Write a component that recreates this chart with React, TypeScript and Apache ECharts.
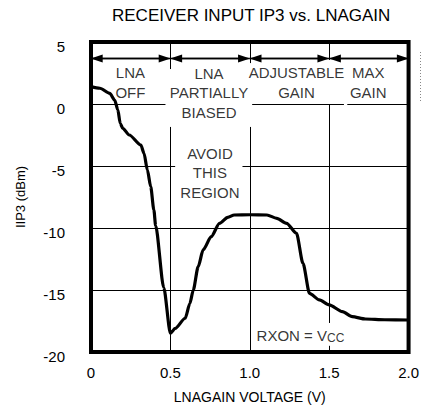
import React, { useEffect, useRef } from "react";
import * as echarts from "echarts";

const FONT = "'Liberation Sans', Arial, Helvetica, sans-serif";

const titleText = "RECEIVER INPUT IP3 vs. LNAGAIN";
const xAxisName = "LNAGAIN VOLTAGE (V)";
const yAxisName = "IIP3 (dBm)";
const xTickLabels = ["0", "0.5", "1.0", "1.5", "2.0"];

const voltage = [
  0, 0.056, 0.118, 0.149, 0.169, 0.184, 0.2, 0.241, 0.314, 0.334, 0.355, 0.376,
  0.396, 0.407, 0.458, 0.5, 0.53, 0.593, 0.623, 0.644, 0.675, 0.706, 0.757,
  0.809, 0.861, 0.902, 1.0, 1.108, 1.17, 1.232, 1.294, 1.335, 1.376, 1.438, 1.5,
  1.583, 1.645, 1.728, 1.85, 2.0,
];
const iip3 = [
  1.4, 1.27, 0.86, 0.32, -0.48, -1.56, -1.96, -2.5, -3.31, -3.98, -5.32, -6.67,
  -8.55, -9.8, -14.8, -18.49, -18.1, -17.28, -16.07, -15.0, -13.12, -11.77,
  -10.7, -9.62, -9.14, -8.95, -8.93, -8.95, -9.22, -9.62, -10.43, -12.85,
  -15.27, -15.8, -16.2, -16.75, -17.15, -17.34, -17.4, -17.42,
];

const regionLabels = [
  "LNA\nOFF",
  "LNA\nPARTIALLY\nBIASED",
  "ADJUSTABLE\nGAIN",
  "MAX\nGAIN",
  "AVOID\nTHIS\nREGION",
];
const regionX = [0.248, 0.743, 1.294, 1.746, 0.749];
const regionY = [1.72, 0.89, 1.72, 1.72, -5.56];

const rxonX = 1.319;
const rxonY = -18.63;

// grid segments (data coords) – the chart's broken grid lines
const gridSegments: number[][][] = [
  [[0.5, 5], [0.5, 2.82]],
  [[0.5, -1.85], [0.5, -20]],
  [[1.0, 5], [1.0, 3.3]],
  [[1.0, -1.85], [1.0, -20]],
  [[1.5, 5], [1.5, 3.55]],
  [[1.5, 0], [1.5, -17.66]],
  [[1.5, -19.5], [1.5, -20]],
  [[0, 0], [0.469, 0]],
  [[1.015, 0], [1.593, 0]],
  [[1.614, 0], [2, 0]],
  [[0, -5], [0.53, -5]],
  [[0.954, -5], [2, -5]],
  [[0, -10], [2, -10]],
  [[0, -15], [2, -15]],
];

const arrowSpans = [
  [0, 0.5],
  [0.5, 1.0],
  [1.0, 1.5],
  [1.5, 2.0],
];
const arrowY = 3.67;
const arrowInset = 0.036; // half an arrow-head, in volts

export default function App() {
  const ref = useRef<HTMLDivElement>(null);

  useEffect(() => {
    document.body.style.margin = "0";
    if (!ref.current) return;
    const chart = echarts.init(ref.current, undefined, { renderer: "svg" });

    const markData: any[] = [];
    gridSegments.forEach((seg) => {
      markData.push([
        { coord: seg[0], symbol: "none" },
        { coord: seg[1], symbol: "none" },
      ]);
    });
    arrowSpans.forEach((s) => {
      markData.push([
        {
          coord: [s[0] + arrowInset, arrowY],
          symbol: "triangle",
          symbolSize: [8, 12],
        },
        {
          coord: [s[1] - arrowInset, arrowY],
          symbol: "triangle",
          symbolSize: [8, 12],
          lineStyle: { width: 1.4 },
        },
      ]);
      markData.push([
        { coord: [s[0], arrowY], symbol: "none" },
        { coord: [s[1], arrowY], symbol: "none", lineStyle: { width: 1.4 } },
      ]);
    });

    const labelData: any[] = regionLabels.map((t, i) => ({
      name: t,
      value: [regionX[i], regionY[i]],
    }));
    labelData.push({
      name: "RXON",
      value: [rxonX, rxonY],
      label: {
        formatter: "{a|RXON = V}{s|CC}",
        rich: {
          a: { fontSize: 15, fontFamily: FONT, color: "#000", lineHeight: 18 },
          s: {
            fontSize: 12,
            fontFamily: FONT,
            color: "#000",
            lineHeight: 18,
            padding: [6, 0, 0, 0],
          },
        },
      },
    });

    chart.setOption({
      animation: false,
      title: {
        text: titleText,
        left: 112,
        top: 7,
        padding: 0,
        textStyle: {
          fontSize: 17,
          fontWeight: "normal",
          color: "#000",
          fontFamily: FONT,
        },
      },
      grid: {
        left: 91,
        right: 8,
        top: 42,
        bottom: 59,
        show: true,
        borderColor: "#000",
        borderWidth: 4,
        backgroundColor: "transparent",
      },
      xAxis: {
        type: "value",
        min: 0,
        max: 2,
        interval: 0.5,
        axisLine: { show: false },
        axisTick: { show: false },
        splitLine: { show: false },
        axisLabel: {
          color: "#000",
          fontSize: 15,
          fontFamily: FONT,
          margin: 13,
          formatter: (v: number) => xTickLabels[Math.round(v / 0.5)] ?? String(v),
        },
        name: xAxisName,
        nameLocation: "middle",
        nameGap: 38,
        nameTextStyle: { color: "#000", fontSize: 14, fontFamily: FONT },
      },
      yAxis: {
        type: "value",
        min: -20,
        max: 5,
        interval: 5,
        axisLine: { show: false },
        axisTick: { show: false },
        splitLine: { show: false },
        axisLabel: {
          color: "#000",
          fontSize: 15,
          fontFamily: FONT,
          margin: 26,
          formatter: (v: number) => "{t|" + v + "}",
          rich: {
            t: {
              fontSize: 15,
              fontFamily: FONT,
              color: "#000",
              padding: [8, 0, 0, 0],
            },
          },
        },
        name: yAxisName,
        nameLocation: "middle",
        nameGap: 64,
        nameRotate: 90,
        nameTextStyle: { color: "#000", fontSize: 13, fontFamily: FONT },
      },
      graphic: [
        {
          type: "line",
          shape: { x1: 420.5, y1: 52, x2: 420.5, y2: 103 },
          style: { stroke: "#888", lineWidth: 1, lineDash: [1, 2] },
          silent: true,
        },
      ],
      series: [
        {
          type: "scatter",
          symbolSize: 0,
          silent: true,
          z: 3,
          data: labelData,
          label: {
            show: true,
            position: "inside",
            formatter: "{b}",
            color: "#000",
            fontSize: 15,
            lineHeight: 19.5,
            fontFamily: FONT,
            align: "center",
          },
          markLine: {
            silent: true,
            symbol: ["none", "none"],
            label: { show: false },
            lineStyle: { color: "#000", width: 1, type: "solid" },
            emphasis: { disabled: true },
            data: markData,
          },
        },
        {
          type: "line",
          data: voltage.map((v, i) => [v, iip3[i]]),
          symbol: "none",
          showSymbol: false,
          smooth: 0.25,
          smoothMonotone: "x",
          z: 5,
          lineStyle: { color: "#000", width: 3.2 },
          silent: true,
        },
      ],
    });

    return () => chart.dispose();
  }, []);

  return <div ref={ref} style={{ width: 422, height: 411 }} />;
}
